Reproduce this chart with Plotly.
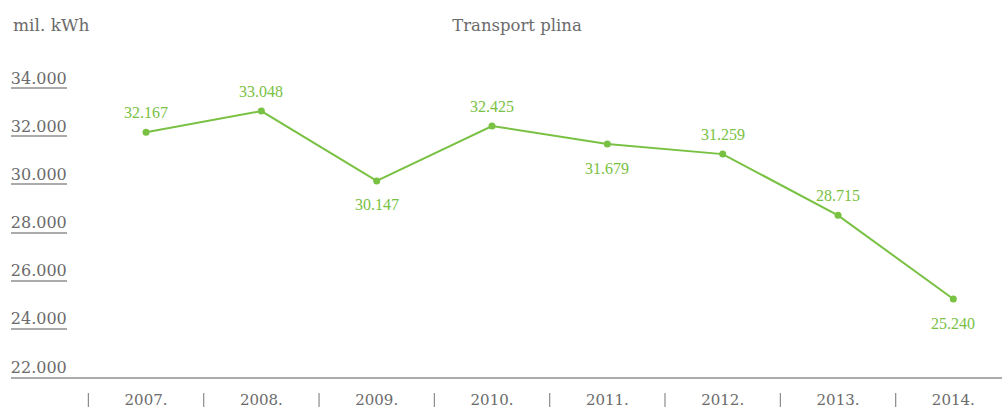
import plotly.graph_objects as go

# ---- data ----
years = [2007, 2008, 2009, 2010, 2011, 2012, 2013, 2014]
year_labels = ["2007.", "2008.", "2009.", "2010.", "2011.", "2012.", "2013.", "2014."]
values = [32167, 33048, 30147, 32425, 31679, 31259, 28715, 25240]
value_labels = ["32.167", "33.048", "30.147", "32.425", "31.679", "31.259", "28.715", "25.240"]
label_side = ["above", "above", "below", "above", "below", "above", "above", "below"]
y_ticks = [22000, 24000, 26000, 28000, 30000, 32000, 34000]
y_tick_labels = ["22.000", "24.000", "26.000", "28.000", "30.000", "32.000", "34.000"]

GREEN = "#79c143"
GRAY_TXT = "#6b6b6b"
GRAY_LINE = "#ababab"

W, H = 1002, 409
ML, MR, MT, MB = 11, 0, 40, 32
PH = H - MT - MB


def py(pix):
    """window pixel row -> paper y"""
    return (H - MB - pix) / PH


fig = go.Figure()
fig.add_trace(go.Scatter(
    x=years, y=values, mode="lines+markers",
    line=dict(color=GREEN, width=2),
    marker=dict(color=GREEN, size=7),
    hoverinfo="skip", showlegend=False,
))

annotations = []
for x, v, t, side in zip(years, values, value_labels, label_side):
    annotations.append(dict(
        x=x, y=v, xref="x", yref="y", text=t, showarrow=False,
        yanchor="middle", xanchor="center",
        yshift=20 if side == "above" else -24,
        font=dict(family="Liberation Serif", size=16, color=GREEN),
    ))

annotations.append(dict(
    text="mil. kWh", x=0, xref="paper", y=py(25), yref="paper",
    xanchor="left", yanchor="middle", showarrow=False,
    font=dict(family="DejaVu Serif", size=17, color=GRAY_TXT),
))

shapes = []
for yr in years:
    shapes.append(dict(
        type="line", xref="x", yref="paper",
        x0=yr - 0.5, x1=yr - 0.5, y0=py(393), y1=py(407),
        line=dict(color="#8a8a8a", width=1.2),
    ))

fig.update_layout(
    width=W, height=H,
    margin=dict(l=ML, r=MR, t=MT, b=MB, autoexpand=False),
    paper_bgcolor="white", plot_bgcolor="white",
    title=dict(
        text="Transport plina", x=517 / W, xref="container", xanchor="center",
        y=1 - 25 / H, yref="container", yanchor="middle",
        font=dict(family="DejaVu Serif", size=16.5, color=GRAY_TXT),
    ),
    xaxis=dict(
        range=[2005.829, 2014.422], tickvals=years, ticktext=year_labels,
        showline=True, linecolor=GRAY_LINE, linewidth=2,
        showgrid=False, zeroline=False, ticks="", ticklabelstandoff=8,
        tickfont=dict(family="DejaVu Serif", size=15, color=GRAY_TXT),
        automargin=False, fixedrange=True,
    ),
    yaxis=dict(
        range=[22000, 36000], tickvals=y_ticks, ticktext=y_tick_labels,
        ticks="inside", ticklen=56, tickwidth=2, tickcolor=GRAY_LINE,
        ticklabelposition="inside", ticklabelstandoff=-56, ticklabelshift=-10,
        showline=False, showgrid=False, zeroline=False,
        tickfont=dict(family="DejaVu Serif", size=16, color=GRAY_TXT),
        automargin=False, fixedrange=True,
    ),
    annotations=annotations,
    shapes=shapes,
)

fig.write_html(
    "out.html",
    config={"displayModeBar": False},
    post_script="document.body.style.margin='0';document.body.style.overflow='hidden';",
)
